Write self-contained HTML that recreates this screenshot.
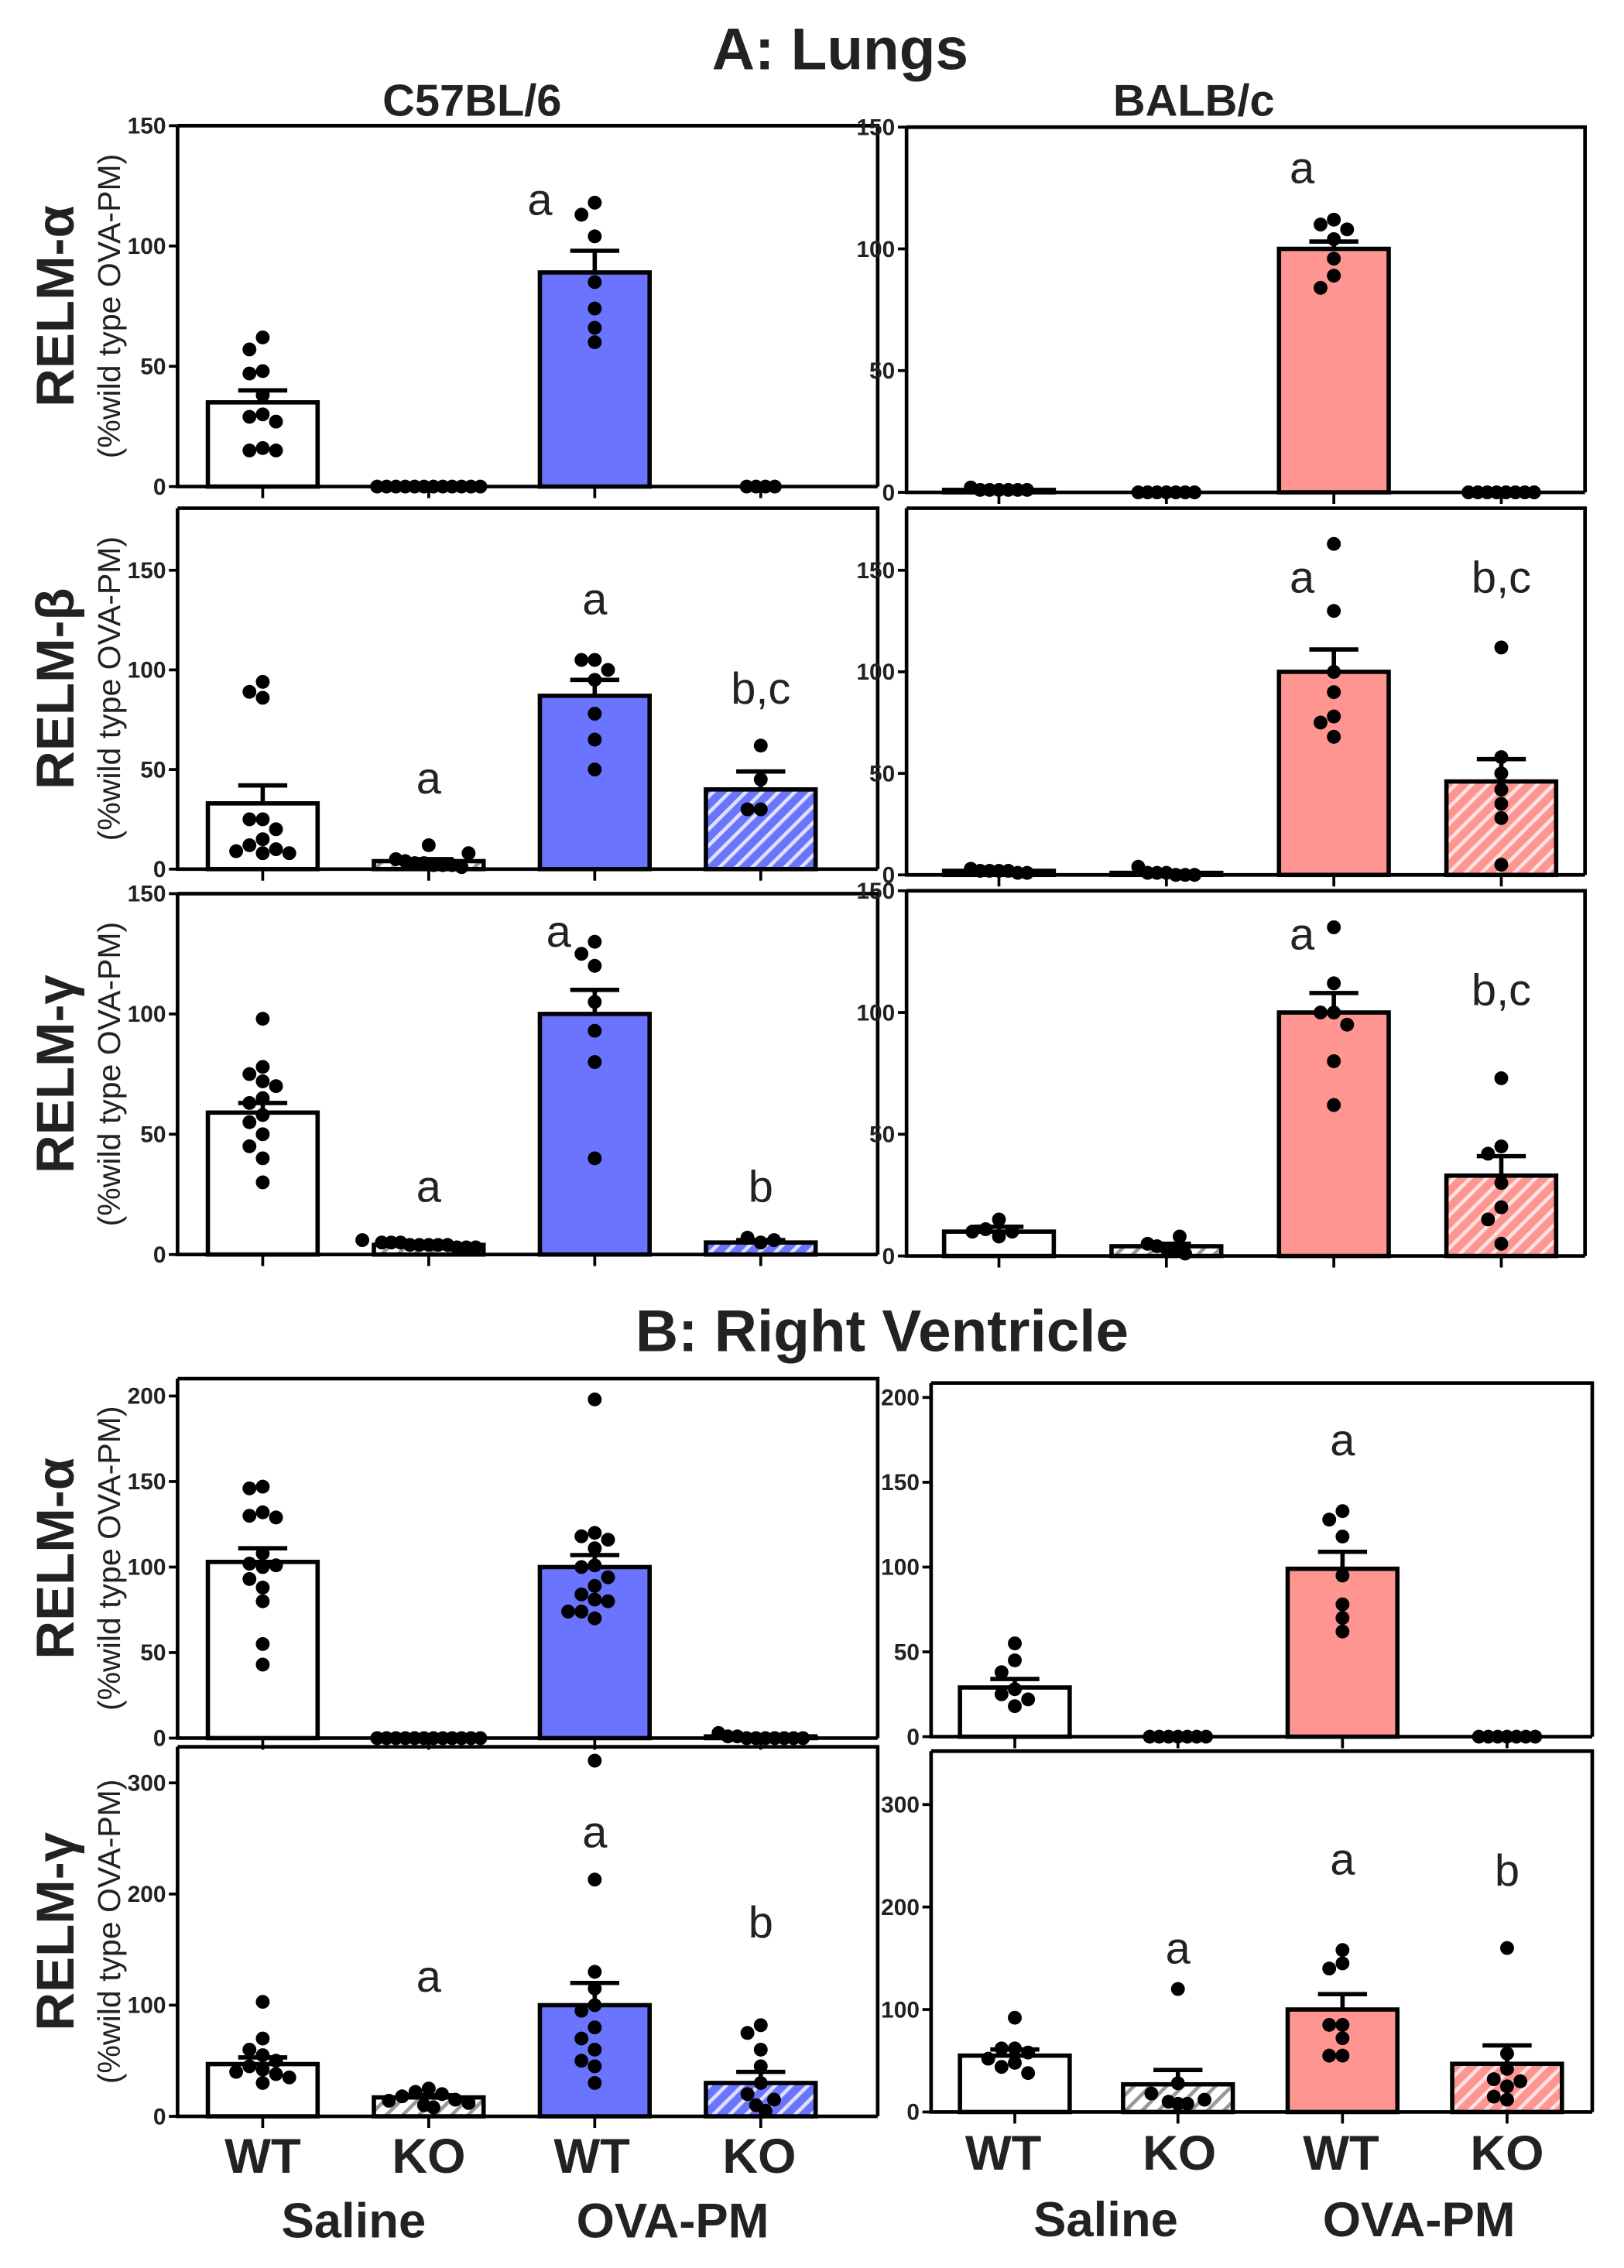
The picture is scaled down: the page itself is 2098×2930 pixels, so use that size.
<!DOCTYPE html>
<html><head><meta charset="utf-8">
<style>
html,body{margin:0;padding:0;background:#fff;}
svg{display:block;}
.t{font-family:"Liberation Sans",sans-serif;font-weight:bold;fill:#222;}
.tk{font-family:"Liberation Sans Narrow","Liberation Sans",sans-serif;font-weight:bold;font-size:16px;fill:#222;}
.let{font-family:"Liberation Sans",sans-serif;font-size:31px;fill:#222;}
</style></head>
<body>
<svg id="fig" width="2098" height="2930" viewBox="0 0 1125 1571" xmlns="http://www.w3.org/2000/svg">
<defs>
<pattern id="hatchGray" patternUnits="userSpaceOnUse" width="8" height="8" patternTransform="rotate(45)"><rect width="8" height="8" fill="#fff"/><rect width="2.5" height="8" fill="#999"/></pattern>
<pattern id="hatchBlue" patternUnits="userSpaceOnUse" width="8" height="8" patternTransform="rotate(45)"><rect width="8" height="8" fill="#6b74ff"/><rect width="2.5" height="8" fill="#dfe1ff"/></pattern>
<pattern id="hatchRed" patternUnits="userSpaceOnUse" width="8" height="8" patternTransform="rotate(45)"><rect width="8" height="8" fill="#ff9591"/><rect width="2.5" height="8" fill="#ffe2e0"/></pattern>
</defs>
<text class="t" x="582" y="48" font-size="41" text-anchor="middle">A: Lungs</text>
<text class="t" x="327" y="80" font-size="31" text-anchor="middle">C57BL/6</text>
<text class="t" x="827" y="80" font-size="31" text-anchor="middle">BALB/c</text>
<text class="t" x="611" y="936" font-size="41" text-anchor="middle">B: Right Ventricle</text>
<g id="panels"></g>
<g>
<text class="t" x="182" y="1505" font-size="34" text-anchor="middle">WT</text>
<text class="t" x="297" y="1505" font-size="34" text-anchor="middle">KO</text>
<text class="t" x="410" y="1505" font-size="34" text-anchor="middle">WT</text>
<text class="t" x="526" y="1505" font-size="34" text-anchor="middle">KO</text>
<text class="t" x="245" y="1550" font-size="34" text-anchor="middle">Saline</text>
<text class="t" x="466" y="1550" font-size="34" text-anchor="middle">OVA-PM</text>
</g>
<g>
<text class="t" x="695" y="1503" font-size="34" text-anchor="middle">WT</text>
<text class="t" x="817" y="1503" font-size="34" text-anchor="middle">KO</text>
<text class="t" x="929" y="1503" font-size="34" text-anchor="middle">WT</text>
<text class="t" x="1044" y="1503" font-size="34" text-anchor="middle">KO</text>
<text class="t" x="766" y="1549" font-size="34" text-anchor="middle">Saline</text>
<text class="t" x="983" y="1549" font-size="34" text-anchor="middle">OVA-PM</text>
</g>
</svg>
<script>
// ---- data (group order: Saline WT, Saline KO, OVA-PM WT, OVA-PM KO) ----
const groups = ["Saline WT","Saline KO","OVA-PM WT","OVA-PM KO"];
const lungAlphaC57Means = [35,0,89,0];
const lungAlphaC57Sem = [5,0,9,0];
const lungAlphaC57Dots = [[62,57,48,47,38,30,29,27,15,16,15],[0,0,0,0,0,0,0,0,0,0,0,0],[118,113,104,85,74,66,60],[0,0,0,0]];
const lungAlphaC57Letters = ["","","a",""];
const lungAlphaC57LetterY = [0,0,113,0];
const lungAlphaBalbMeans = [1,0,100,0];
const lungAlphaBalbSem = [0.5,0,3,0];
const lungAlphaBalbDots = [[1,1,2,1,1,1,1],[0,0,0,0,0,0,0],[112,110,108,104,96,89,84],[0,0,0,0,0,0,0,0]];
const lungAlphaBalbLetters = ["","","a",""];
const lungAlphaBalbLetterY = [0,0,127,0];
const lungBetaC57Means = [33,4,87,40];
const lungBetaC57Sem = [9,1,8,9];
const lungBetaC57Dots = [[94,89,86,25,20,15,12,10,8,8,9,25],[12,8,5,3,2,2,3,4,1,2],[105,105,100,95,78,65,50],[62,45,30,30]];
const lungBetaC57Letters = ["","a","a","b,c"];
const lungBetaC57LetterY = [0,38,128,83];
const lungBetaBalbMeans = [2,1,100,46];
const lungBetaBalbSem = [0.5,0.5,11,11];
const lungBetaBalbDots = [[2,2,3,2,1,2,1],[1,4,1,0,1,0,0],[163,130,100,90,78,75,68],[112,58,50,42,35,28,5]];
const lungBetaBalbLetters = ["","","a","b,c"];
const lungBetaBalbLetterY = [0,0,139,139];
const lungGammaC57Means = [59,4,100,5];
const lungGammaC57Sem = [4,0.5,10,1];
const lungGammaC57Dots = [[98,78,75,72,70,65,63,58,55,50,45,40,30],[6,5,4,4,3,4,5,3,4,3,4,5],[130,125,120,105,93,80,40],[6,7,5]];
const lungGammaC57Letters = ["","a","a","b"];
const lungGammaC57LetterY = [0,22,128,22];
const lungGammaBalbMeans = [10,4,100,33];
const lungGammaBalbSem = [2,1,8,8];
const lungGammaBalbDots = [[15,11,10,10,8],[8,5,3,2,4,1],[135,112,100,100,95,80,62],[73,45,42,30,20,15,5]];
const lungGammaBalbLetters = ["","","a","b,c"];
const lungGammaBalbLetterY = [0,0,126,103];
const rvAlphaC57Means = [103,0,100,1];
const rvAlphaC57Sem = [8,0,7,0.5];
const rvAlphaC57Dots = [[147,146,132,130,129,108,102,101,100,93,88,80,55,43],[0,0,0,0,0,0,0,0,0,0,0,0],[198,120,118,116,111,101,100,94,89,84,81,80,74,74,70],[3,1,1,0,0,0,0,0,0,0]];
const rvAlphaC57Letters = ["","","",""];
const rvAlphaC57LetterY = [0,0,0,0];
const rvAlphaBalbMeans = [29,0,99,0];
const rvAlphaBalbSem = [5,0,10,0];
const rvAlphaBalbDots = [[55,45,38,28,25,22,18],[0,0,0,0,0,0,0],[133,128,118,95,78,70,62],[0,0,0,0,0,0,0]];
const rvAlphaBalbLetters = ["","","a",""];
const rvAlphaBalbLetterY = [0,0,166,0];
const rvGammaC57Means = [47,17,100,30];
const rvGammaC57Sem = [6,2,20,10];
const rvGammaC57Dots = [[103,70,60,55,50,45,42,40,38,35,30],[25,22,20,18,15,14,12,10,8],[320,213,130,115,100,95,80,70,60,50,45,30],[82,75,60,45,30,20,15,10,5]];
const rvGammaC57Letters = ["","a","a","b"];
const rvGammaC57LetterY = [0,112,242,161];
const rvGammaBalbMeans = [55,27,100,47];
const rvGammaBalbSem = [6,14,15,18];
const rvGammaBalbDots = [[92,62,62,58,52,48,44,38],[120,28,18,12,10,8,8],[158,145,140,85,85,72,55,55],[160,57,42,32,30,25,15,12]];
const rvGammaBalbLetters = ["","a","a","b"];
const rvGammaBalbLetterY = [0,145,232,221];

const ticksA = [0,50,100,150];
const ticksRVa = [0,50,100,150,200];
const ticksRVg = [0,100,200,300];

// ---- layout ----
const L = {x0:123,x1:608,cx:[182,297,412,527]};
const R = {x0:628,x1:1098,cx:[692,808,924,1040]};
const R2 = {x0:645,x1:1103,cx:[703,816,930,1044]};
const leftFills=["#fff","url(#hatchGray)","#6b74ff","url(#hatchBlue)"];
const rightFills=["#fff","url(#hatchGray)","#ff9591","url(#hatchRed)"];
const panels = [
 {name:"lung-relm-alpha-c57",col:L,top:87,ya:87,yb:337,vmax:150,ticks:ticksA,m:lungAlphaC57Means,s:lungAlphaC57Sem,d:lungAlphaC57Dots,l:lungAlphaC57Letters,ly:lungAlphaC57LetterY,f:leftFills,label:"RELM-α",lshift:-38},
 {name:"lung-relm-alpha-balbc",col:R,top:88,ya:88,yb:341,vmax:150,ticks:ticksA,m:lungAlphaBalbMeans,s:lungAlphaBalbSem,d:lungAlphaBalbDots,l:lungAlphaBalbLetters,ly:lungAlphaBalbLetterY,f:rightFills,lshift:-22},
 {name:"lung-relm-beta-c57",col:L,top:352,ya:395,yb:602,vmax:150,ticks:ticksA,m:lungBetaC57Means,s:lungBetaC57Sem,d:lungBetaC57Dots,l:lungBetaC57Letters,ly:lungBetaC57LetterY,f:leftFills,label:"RELM-β"},
 {name:"lung-relm-beta-balbc",col:R,top:352,ya:395,yb:606,vmax:150,ticks:ticksA,m:lungBetaBalbMeans,s:lungBetaBalbSem,d:lungBetaBalbDots,l:lungBetaBalbLetters,ly:lungBetaBalbLetterY,f:rightFills,lshift:-22},
 {name:"lung-relm-gamma-c57",col:L,top:619,ya:619,yb:869,vmax:150,ticks:ticksA,m:lungGammaC57Means,s:lungGammaC57Sem,d:lungGammaC57Dots,l:lungGammaC57Letters,ly:lungGammaC57LetterY,f:leftFills,label:"RELM-γ",lshift:-25},
 {name:"lung-relm-gamma-balbc",col:R,top:617,ya:617,yb:870,vmax:150,ticks:ticksA,m:lungGammaBalbMeans,s:lungGammaBalbSem,d:lungGammaBalbDots,l:lungGammaBalbLetters,ly:lungGammaBalbLetterY,f:rightFills,lshift:-22},
 {name:"rv-relm-alpha-c57",col:L,top:955,ya:967,yb:1204,vmax:200,ticks:ticksRVa,m:rvAlphaC57Means,s:rvAlphaC57Sem,d:rvAlphaC57Dots,l:rvAlphaC57Letters,ly:rvAlphaC57LetterY,f:leftFills,label:"RELM-α"},
 {name:"rv-relm-alpha-balbc",col:R2,top:958,ya:968,yb:1203,vmax:200,ticks:ticksRVa,m:rvAlphaBalbMeans,s:rvAlphaBalbSem,d:rvAlphaBalbDots,l:rvAlphaBalbLetters,ly:rvAlphaBalbLetterY,f:rightFills},
 {name:"rv-relm-gamma-c57",col:L,top:1210,ya:1235,yb:1466,vmax:300,ticks:ticksRVg,m:rvGammaC57Means,s:rvGammaC57Sem,d:rvGammaC57Dots,l:rvGammaC57Letters,ly:rvGammaC57LetterY,f:leftFills,label:"RELM-γ"},
 {name:"rv-relm-gamma-balbc",col:R2,top:1213,ya:1250,yb:1463,vmax:300,ticks:ticksRVg,m:rvGammaBalbMeans,s:rvGammaBalbSem,d:rvGammaBalbDots,l:rvGammaBalbLetters,ly:rvGammaBalbLetterY,f:rightFills}
];
const NS="http://www.w3.org/2000/svg";
function mk(tag,attrs,parent){const e=document.createElementNS(NS,tag);for(const k in attrs)e.setAttribute(k,attrs[k]);parent.appendChild(e);return e;}
const root=document.getElementById('panels');
const BW=76, DR=4.8, STEP=9.2, FLAT=6.5;
panels.forEach(p=>{
  const g=mk('g',{},root);
  
  
  const y=v=>p.yb-(v/p.vmax)*(p.yb-p.ya);
  const c=p.col;
  p.m.forEach((v,i)=>{
    const top=y(v);
    const b=mk('rect',{x:c.cx[i]-BW/2,y:top,width:BW,height:Math.max(0,p.yb-top),fill:p.f[i],stroke:'#000','stroke-width':3},g);
    
    
  });
  p.m.forEach((v,i)=>{
    if(p.s[i]<=0.6) return;
    const yt=y(v+p.s[i]);
    const e=mk('path',{d:`M${c.cx[i]} ${y(v)}V${yt}M${c.cx[i]-17} ${yt}H${c.cx[i]+17}`,stroke:'#000','stroke-width':3,fill:'none'},g);
    
    
  });
  p.d.forEach((vals,i)=>{
    const sorted=vals.slice().sort((a,b)=>b-a);
    const flatCut=p.vmax*0.035;
    const flat=sorted.filter(v=>v<=flatCut);
    const rest=sorted.filter(v=>v>flatCut);
    const placed=[];
    // dense row near zero: evenly spaced, overlapping
    const span=Math.min((flat.length-1)*FLAT,74);
    flat.forEach((v,k)=>{
      const off=flat.length>1? -span/2+k*span/(flat.length-1):0;
      placed.push([off,y(v)]);
    });
    rest.forEach(v=>{
      const yy=y(v);
      const offs=[0];
      for(let k=1;k<=5;k++){offs.push(-k*STEP,k*STEP);}
      let off=null;
      for(const o of offs){
        if(placed.every(q=>Math.hypot(q[0]-o,q[1]-yy)>=STEP)){off=o;break;}
      }
      if(off===null){off=offs[placed.length%offs.length];}
      placed.push([off,yy]);
    });
    placed.forEach(q=>{
      const d=mk('circle',{cx:c.cx[i]+q[0],cy:q[1],r:DR,fill:'#000'},g);
      
      
    });
  });
  p.l.forEach((t,i)=>{
    if(!t) return;
    let lx=c.cx[i];
    if(i===2 && p.lshift) lx+=p.lshift;
    const te=mk('text',{class:'let',x:lx,y:y(p.ly[i]),'text-anchor':'middle'},g);
    te.textContent=t;
    
    
  });
  const fr=mk('path',{d:`M${c.x0} ${p.top}H${c.x1}V${p.yb}M${c.x0} ${p.top}V${p.yb}H${c.x1}`,stroke:'#000','stroke-width':2.5,fill:'none'},g);
  
  
  c.cx.forEach(x=>{mk('line',{x1:x,x2:x,y1:p.yb,y2:p.yb+8,stroke:'#000','stroke-width':2},g);});
  p.ticks.forEach(t=>{
    const ty=y(t);
    mk('line',{x1:c.x0-6,x2:c.x0,y1:ty,y2:ty,stroke:'#000','stroke-width':2},g);
    const tl=mk('text',{class:'tk',x:c.x0-8,y:ty+5.5,'text-anchor':'end'},g);
    tl.textContent=t;
    
    
  });
  if(p.label){
    const cy=(p.top+p.yb)/2;
    const a=mk('text',{class:'t','font-size':37,x:0,y:0,'text-anchor':'middle',transform:`translate(51 ${cy}) rotate(-90)`},g);
    a.textContent=p.label;
    
    
    const b=mk('text',{'font-family':'Liberation Sans, sans-serif','font-size':22,fill:'#222',x:0,y:0,'text-anchor':'middle',transform:`translate(83 ${cy}) rotate(-90)`},g);
    b.textContent='(%wild type OVA-PM)';
    
    
  }
});
</script>
</body></html>
